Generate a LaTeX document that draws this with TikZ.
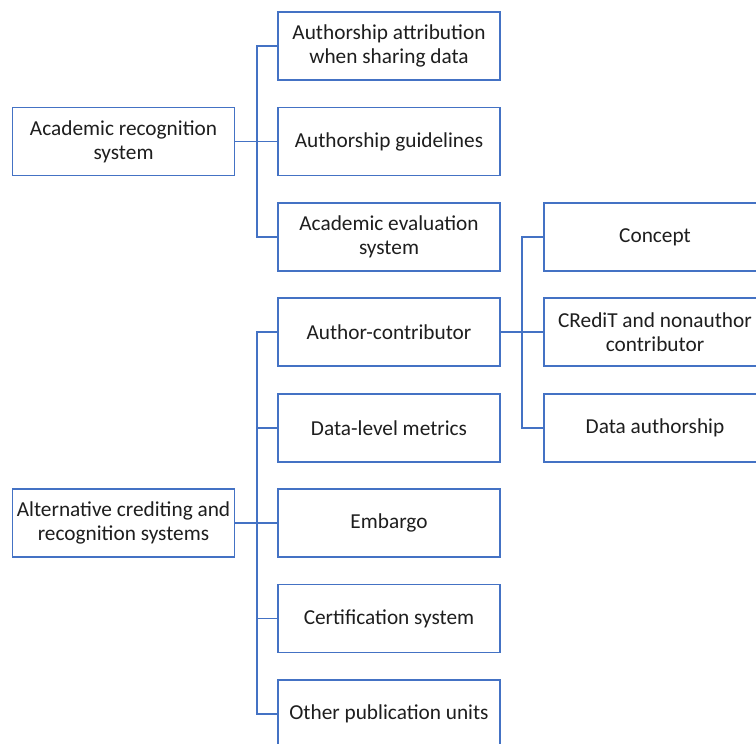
\documentclass[tikz,border=0pt]{standalone}
\usepackage{fontspec}
\setmainfont{Carlito}
\definecolor{boxblue}{RGB}{68,114,196}
\definecolor{txt}{RGB}{30,30,30}
\begin{document}
\begin{tikzpicture}[x=1pt,y=-1pt,
  cbox/.style={draw=boxblue,line width=1.8pt,fill=white,minimum width=222pt,minimum height=68pt,align=center,inner sep=0pt,font=\fontsize{21.3}{24}\selectfont,text=txt},
  link/.style={draw=boxblue,line width=1.2pt}]
\clip (0,0) rectangle (756,744);
\fill[white] (0,0) rectangle (756,744);
% left
\node[cbox] (ars) at (123.5,141.5) {Academic recognition\\system};
\node[cbox] (alt) at (123.5,523) {Alternative crediting and\\recognition systems};
% middle
\node[cbox] (m1) at (389,46) {Authorship attribution\\when sharing data};
\node[cbox] (m2) at (389,141.5) {Authorship guidelines};
\node[cbox] (m3) at (389,237) {Academic evaluation\\system};
\node[cbox] (m4) at (389,332) {Author-contributor};
\node[cbox] (m5) at (389,428) {Data-level metrics};
\node[cbox] (m6) at (389,523) {Embargo};
\node[cbox] (m7) at (389,618.5) {Certification system};
\node[cbox] (m8) at (389,714) {Other publication units};
% right
\node[cbox] (r1) at (655,237) {Concept};
\node[cbox] (r2) at (655,332) {CRediT and nonauthor\\contributor};
\node[cbox] (r3) at (655,428) {Data authorship};
% trunks
\coordinate (tA) at (257,0);
\coordinate (tB) at (522,0);
\draw[link] (ars.east) -- (m2.west);
\draw[link] (m1.west) -- (m1.west -| tA) |- (m3.west);
\draw[link] (alt.east) -- (m6.west);
\draw[link] (m4.west) -- (m4.west -| tA) |- (m8.west);
\draw[link] (m5.west) -- (m5.west -| tA);
\draw[link] (m7.west) -- (m7.west -| tA);
\draw[link] (m4.east) -- (r2.west);
\draw[link] (r1.west) -- (r1.west -| tB) |- (r3.west);
\end{tikzpicture}
\end{document}
